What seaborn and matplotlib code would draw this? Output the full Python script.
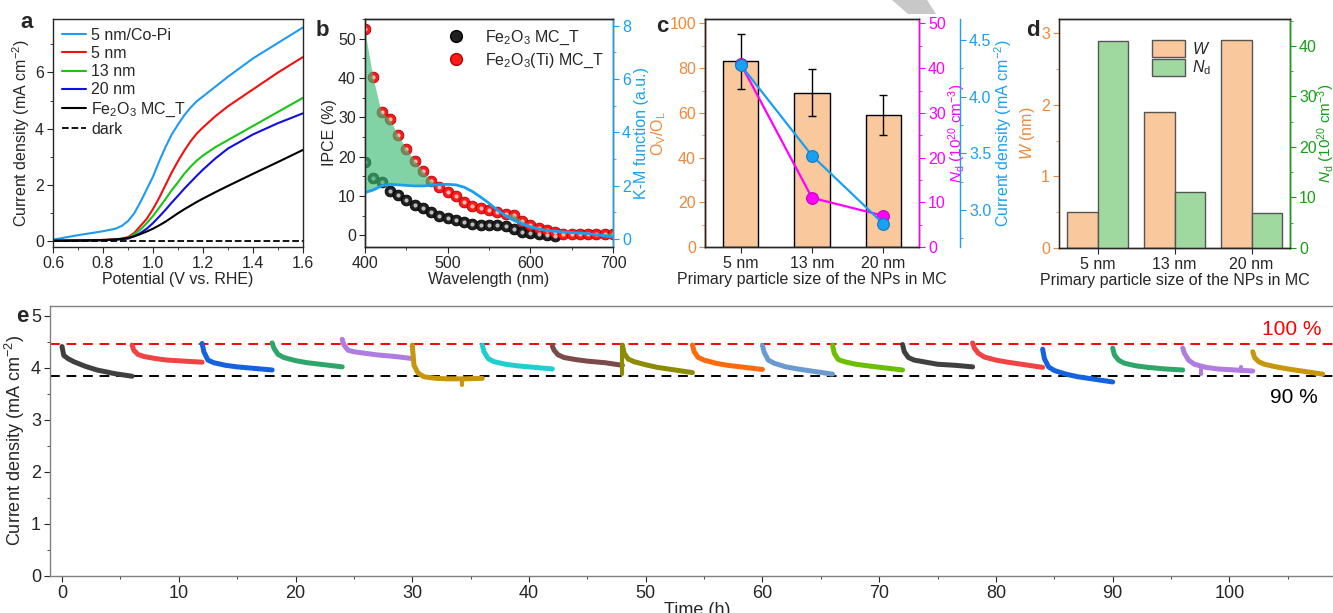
import numpy as np
import pandas as pd
import matplotlib
matplotlib.use("Agg")
import matplotlib.pyplot as plt
from matplotlib.patches import Patch, Polygon
from matplotlib.lines import Line2D
from matplotlib.ticker import MultipleLocator
import seaborn as sns

# ---------------- data ----------------
# a: LSV curves
potential = [0.6, 0.7, 0.8, 0.85, 0.875, 0.9, 0.925, 0.95, 0.975, 1.0, 1.025, 1.05,
             1.075, 1.1, 1.125, 1.15, 1.175, 1.2, 1.25, 1.3, 1.4, 1.5, 1.6]
j_copi = [0.06, 0.22, 0.36, 0.45, 0.55, 0.72, 1.0, 1.4, 1.85, 2.3, 2.85, 3.35,
          3.8, 4.15, 4.48, 4.75, 4.98, 5.15, 5.5, 5.85, 6.5, 7.05, 7.6]
j_5nm = [0.03, 0.04, 0.05, 0.07, 0.1, 0.15, 0.3, 0.55, 0.8, 1.15, 1.55, 2.0,
         2.45, 2.85, 3.22, 3.55, 3.83, 4.05, 4.45, 4.8, 5.4, 6.0, 6.55]
j_13nm = [0.02, 0.03, 0.04, 0.06, 0.08, 0.12, 0.25, 0.42, 0.65, 0.9, 1.2, 1.5,
          1.82, 2.1, 2.4, 2.65, 2.87, 3.05, 3.35, 3.6, 4.1, 4.6, 5.1]
j_20nm = [0.02, 0.03, 0.04, 0.06, 0.08, 0.1, 0.18, 0.3, 0.45, 0.65, 0.88, 1.12,
          1.38, 1.62, 1.87, 2.1, 2.33, 2.55, 2.95, 3.3, 3.8, 4.2, 4.55]
j_mct = [0.02, 0.03, 0.05, 0.07, 0.09, 0.12, 0.18, 0.26, 0.35, 0.45, 0.57, 0.7,
         0.85, 1.0, 1.14, 1.27, 1.4, 1.52, 1.75, 1.97, 2.4, 2.82, 3.25]
j_dark = [0.0] * len(potential)

# b: IPCE and K-M function
wl = np.arange(400, 701, 10)
ipce_ti = [52.5, 40.2, 31.3, 29.5, 25.5, 22.0, 19.0, 16.3, 13.8, 12.3, 11.0,
           9.9, 8.5, 7.4, 6.8, 6.3, 5.8, 5.3, 5.2, 3.5, 2.6, 1.9, 1.3, 0.9,
           0.3, 0.4, 0.3, 0.3, 0.3, 0.3, 0.4]
ipce_mct = [18.7, 14.5, 13.5, 11.3, 10.3, 9.0, 7.8, 6.8, 5.8, 5.0, 4.5, 3.8,
            3.3, 2.8, 2.7, 2.6, 2.5, 2.3, 1.5, 0.9, 0.6, 0.3, 0.1, -0.1]
km = [1.74, 1.84, 1.99, 2.05, 2.03, 2.01, 1.99, 1.99, 2.01, 2.04, 2.05, 2.03,
      1.94, 1.78, 1.57, 1.34, 1.09, 0.87, 0.70, 0.56, 0.45, 0.38, 0.32, 0.29,
      0.26, 0.24, 0.22, 0.20, 0.16, 0.12, 0.07]

# c, d: particle size comparison
sizes = ["5 nm", "13 nm", "20 nm"]
ov_ol = [83, 69, 59]
ov_ol_err = [12.5, 10.5, 9]
nd = [41, 11, 7]
cur_c = [4.28, 3.48, 2.88]
w_depl = [0.51, 1.90, 2.90]

# e: stability test (18 runs of 6 h)
seg_start = [0, 6, 12, 18, 24, 30, 36, 42, 48, 54, 60, 66, 72, 78, 84, 90, 96, 102]
rel_t = [0, 0.15, 0.5, 1, 2, 3, 4.5, 6]
seg_j = [
    [4.41, 4.24, 4.18, 4.12, 4.03, 3.96, 3.89, 3.84],
    [4.44, 4.34, 4.26, 4.22, 4.18, 4.15, 4.13, 4.11],
    [4.47, 4.31, 4.15, 4.10, 4.05, 4.02, 3.99, 3.96],
    [4.48, 4.38, 4.26, 4.20, 4.14, 4.10, 4.06, 4.02],
    [4.55, 4.44, 4.34, 4.31, 4.28, 4.25, 4.22, 4.18],
    [4.44, 4.05, 3.90, 3.83, 3.80, 3.79, 3.79, 3.80],
    [4.44, 4.31, 4.18, 4.12, 4.07, 4.04, 4.01, 3.98],
    [4.42, 4.34, 4.25, 4.20, 4.16, 4.13, 4.10, 4.05],
    [4.44, 4.28, 4.17, 4.12, 4.06, 4.01, 3.96, 3.91],
    [4.44, 4.31, 4.20, 4.15, 4.09, 4.05, 4.01, 3.97],
    [4.43, 4.30, 4.15, 4.09, 4.02, 3.98, 3.93, 3.88],
    [4.44, 4.28, 4.16, 4.12, 4.07, 4.04, 4.00, 3.96],
    [4.45, 4.31, 4.20, 4.15, 4.11, 4.07, 4.05, 4.02],
    [4.48, 4.38, 4.28, 4.21, 4.15, 4.11, 4.06, 4.01],
    [4.36, 4.18, 4.02, 3.95, 3.88, 3.83, 3.78, 3.73],
    [4.38, 4.25, 4.15, 4.09, 4.04, 4.01, 3.98, 3.96],
    [4.38, 4.28, 4.15, 4.07, 4.01, 3.98, 3.96, 3.94],
    [4.31, 4.20, 4.12, 4.07, 4.02, 3.98, 3.93, 3.88],
]
seg_colors = ["#404040", "#F04343", "#1562DE", "#2EA66A", "#B07CE0", "#C8960A",
              "#1ECFD0", "#7B4A4A", "#8C8C00", "#FF6A0D", "#6A9AD0", "#6BBE00",
              "#404040", "#F04343", "#1562DE", "#2EA66A", "#B07CE0", "#C8960A"]
# short glitches in some runs: time, low, high, run index
spike_t = [34.3, 48.0, 97.6, 101.0]
spike_lo = [3.68, 3.88, 3.88, 3.94]
spike_hi = [3.79, 4.44, 3.98, 4.02]
spike_seg = [5, 8, 16, 16]
ref_100 = 4.45
ref_90 = 3.84

# ---------------- style ----------------
sns.set_style("ticks")
plt.rcParams['font.family'] = ['Liberation Sans', 'DejaVu Sans']
plt.rcParams['mathtext.fontset'] = 'custom'
plt.rcParams['mathtext.rm'] = 'Liberation Sans'
plt.rcParams['mathtext.it'] = 'Liberation Sans:italic'
FS = 11.5
plt.rcParams['font.size'] = FS
plt.rcParams['axes.labelsize'] = FS
plt.rcParams['xtick.labelsize'] = FS
plt.rcParams['ytick.labelsize'] = FS
plt.rcParams['axes.linewidth'] = 1.0
plt.rcParams['xtick.major.size'] = 4
plt.rcParams['ytick.major.size'] = 4
plt.rcParams['xtick.minor.size'] = 2.5
plt.rcParams['ytick.minor.size'] = 2.5
plt.rcParams['xtick.major.pad'] = 2.5
plt.rcParams['ytick.major.pad'] = 2.5
plt.rcParams['xtick.direction'] = 'out'
plt.rcParams['ytick.direction'] = 'out'

ORANGE = "#F0883A"
BAR_OR = "#F9C89C"
BAR_GR = "#A0D9A0"
GREEN = "#17A017"
MAG = "#FF00FF"
SKY = "#1AA0F0"

W, H = 1333, 613
fig = plt.figure(figsize=(W / 100, H / 100), dpi=100)


def box(x0, y0, x1, y1):
    return [x0 / W, 1 - y1 / H, (x1 - x0) / W, (y1 - y0) / H]


def letter(x, y, s):
    fig.text(x / W, 1 - y / H, s, fontsize=16, fontweight='bold', ha='left', va='center')


# ---------------- a ----------------
ax_a = fig.add_axes(box(53, 19, 303, 247))
labels_a = ["5 nm/Co-Pi", "5 nm", "13 nm", "20 nm", "Fe$_2$O$_3$ MC_T"]
cols_a = ["#1E9BF0", "#F01010", "#18C418", "#1010E0", "black"]
series_a = [j_copi, j_5nm, j_13nm, j_20nm, j_mct]
df_a = pd.concat([pd.DataFrame({"V": potential, "J": s, "sample": lab})
                  for s, lab in zip(series_a, labels_a)])
sns.lineplot(data=df_a, x="V", y="J", hue="sample", palette=dict(zip(labels_a, cols_a)),
             estimator=None, sort=False, linewidth=1.5, legend=False, ax=ax_a)
sns.lineplot(x=potential, y=j_dark, color="black", linestyle="--", linewidth=1.3, ax=ax_a)
ax_a.set_xlim(0.6, 1.6)
ax_a.set_ylim(-0.2, 7.9)
ax_a.xaxis.set_major_locator(MultipleLocator(0.2))
ax_a.xaxis.set_minor_locator(MultipleLocator(0.1))
ax_a.yaxis.set_major_locator(MultipleLocator(2))
ax_a.yaxis.set_minor_locator(MultipleLocator(1))
ax_a.set_xlabel("Potential (V vs. RHE)", labelpad=1)
ax_a.set_ylabel("Current density (mA cm$^{-2}$)", labelpad=2)
h_a = [Line2D([], [], color=c, lw=1.5) for c in cols_a]
h_a.append(Line2D([], [], color="black", lw=1.3, ls="--"))
ax_a.legend(h_a, labels_a + ["dark"], loc="upper left", frameon=False,
            handlelength=1.5, handletextpad=0.35, labelspacing=0.2,
            borderaxespad=0.15, fontsize=FS)
letter(20, 22, "a")

# ---------------- b ----------------
ax_b = fig.add_axes(box(365, 19, 613, 247))
ax_b2 = ax_b.twinx()
sns.scatterplot(x=wl[:len(ipce_mct)], y=ipce_mct, s=60, color="#202020",
                edgecolor="#000000", linewidth=0.6, ax=ax_b, zorder=3)
sns.scatterplot(x=wl, y=ipce_ti, s=60, color="#FF1A1A", edgecolor="#B00000",
                linewidth=0.6, ax=ax_b, zorder=3)
sns.scatterplot(x=wl[:len(ipce_mct)], y=ipce_mct, s=9, color="white", alpha=0.7,
                linewidth=0, ax=ax_b, zorder=4)
sns.scatterplot(x=wl, y=ipce_ti, s=9, color="white", alpha=0.7,
                linewidth=0, ax=ax_b, zorder=4)
yl_b, yr_b = (-3, 55), (-0.3, 8.25)
ax_b.set_ylim(*yl_b)
ax_b2.set_ylim(*yr_b)
ipce_ti_r = yr_b[0] + (np.array(ipce_ti) - yl_b[0]) / (yl_b[1] - yl_b[0]) * (yr_b[1] - yr_b[0])
km_arr = np.array(km)
ax_b2.fill_between(wl, km_arr, ipce_ti_r, where=ipce_ti_r > km_arr, interpolate=True,
                   color="#3DBB75", alpha=0.65, linewidth=0)
sns.lineplot(x=wl, y=km, color=SKY, linewidth=2, ax=ax_b2)
ax_b.set_xlim(400, 700)
ax_b.xaxis.set_major_locator(MultipleLocator(100))
ax_b.xaxis.set_minor_locator(MultipleLocator(50))
ax_b.yaxis.set_major_locator(MultipleLocator(10))
ax_b.yaxis.set_minor_locator(MultipleLocator(5))
ax_b2.yaxis.set_major_locator(MultipleLocator(2))
ax_b2.yaxis.set_minor_locator(MultipleLocator(1))
ax_b.set_xlabel("Wavelength (nm)", labelpad=1)
ax_b.set_ylabel("IPCE (%)", labelpad=1)
ax_b2.set_ylabel("K-M function (a.u.)", color=SKY, labelpad=2)
ax_b2.spines["right"].set_color(SKY)
ax_b2.tick_params(axis="y", colors=SKY, which="both")
h_b = [Line2D([], [], ls="", marker="o", ms=8.5, mfc="#202020", mec="black"),
       Line2D([], [], ls="", marker="o", ms=8.5, mfc="#FF1A1A", mec="#B00000")]
ax_b.legend(h_b, ["Fe$_2$O$_3$ MC_T", "Fe$_2$O$_3$(Ti) MC_T"], loc="upper right",
            frameon=False, handletextpad=0.8, labelspacing=0.3, borderaxespad=0.2,
            fontsize=FS)
letter(316, 30, "b")

# ---------------- c ----------------
ax_c = fig.add_axes(box(705, 19, 919, 247))
pos = np.arange(len(sizes))
sns.barplot(x=sizes, y=ov_ol, color=BAR_OR, edgecolor="black", linewidth=1,
            width=0.5, saturation=1, ax=ax_c)
ax_c.errorbar(pos, ov_ol, yerr=ov_ol_err, fmt="none", ecolor="black",
              elinewidth=1, capsize=3, capthick=1)
ax_c2 = ax_c.twinx()
sns.lineplot(x=pos, y=nd, color=MAG, marker="o", markersize=8.5, markeredgecolor="#C000C0",
             linewidth=1.6, sort=False, ax=ax_c2)
ax_c3 = ax_c.twinx()
sns.lineplot(x=pos, y=cur_c, color=SKY, marker="o", markersize=8.5, markeredgecolor="#0A78C0",
             linewidth=1.6, sort=False, ax=ax_c3)
ax_c.set_xlim(-0.5, 2.5)
ax_c.set_ylim(0, 102)
ax_c2.set_ylim(0, 51)
ax_c3.set_ylim(2.675, 4.684)
ax_c.yaxis.set_major_locator(MultipleLocator(20))
ax_c.yaxis.set_minor_locator(MultipleLocator(10))
ax_c2.yaxis.set_major_locator(MultipleLocator(10))
ax_c2.yaxis.set_minor_locator(MultipleLocator(5))
ax_c3.yaxis.set_major_locator(MultipleLocator(0.5))
ax_c3.yaxis.set_minor_locator(MultipleLocator(0.25))
ax_c3.spines["right"].set_position(("outward", 29.5))
for sp in ["top", "bottom"]:
    ax_c3.spines[sp].set_visible(False)
ax_c.spines["left"].set_color(ORANGE)
ax_c.tick_params(axis="y", colors=ORANGE, which="both")
ax_c.set_ylabel("O$_\\mathrm{V}$/O$_\\mathrm{L}$", color=ORANGE, labelpad=1)
ax_c2.spines["right"].set_color(MAG)
ax_c2.tick_params(axis="y", colors=MAG, which="both")
ax_c2.set_ylabel("$N_\\mathrm{d}$ (10$^{20}$ cm$^{-3}$)", color=MAG, labelpad=0, fontsize=11)
ax_c3.spines["right"].set_color(SKY)
ax_c3.tick_params(axis="y", colors=SKY, which="both")
ax_c3.set_ylabel("Current density (mA cm$^{-2}$)", color=SKY, labelpad=1)
ax_c3.set_yticks([3.0, 3.5, 4.0, 4.5], ["3.0", "3.5", "4.0", "4.5"])
ax_c.set_xlabel("Primary particle size of the NPs in MC", labelpad=1)
letter(656, 27, "c")

# ---------------- d ----------------
ax_d = fig.add_axes(box(1059, 19, 1290, 248))
ax_d2 = ax_d.twinx()
sns.barplot(x=pos - 0.2, y=w_depl, native_scale=True, width=0.4, color=BAR_OR,
            saturation=1, edgecolor="#555555", linewidth=1, ax=ax_d)
sns.barplot(x=pos + 0.2, y=nd, native_scale=True, width=0.4, color=BAR_GR,
            saturation=1, edgecolor="#555555", linewidth=1, ax=ax_d2)
ax_d.set_xlim(-0.5, 2.5)
ax_d.set_xticks(pos, sizes)
ax_d.set_ylim(0, 3.2)
ax_d2.set_ylim(0, 45.3)
ax_d.yaxis.set_major_locator(MultipleLocator(1))
ax_d.yaxis.set_minor_locator(MultipleLocator(0.5))
ax_d2.yaxis.set_major_locator(MultipleLocator(10))
ax_d2.yaxis.set_minor_locator(MultipleLocator(5))
ax_d.spines["left"].set_color(ORANGE)
ax_d.tick_params(axis="y", colors=ORANGE, which="both")
ax_d.set_ylabel("$W$ (nm)", color=ORANGE, labelpad=3)
ax_d2.spines["right"].set_color(GREEN)
ax_d2.tick_params(axis="y", colors=GREEN, which="both")
ax_d2.set_ylabel("$N_\\mathrm{d}$ (10$^{20}$ cm$^{-3}$)", color=GREEN, labelpad=-1, fontsize=11)
ax_d.set_xlabel("Primary particle size of the NPs in MC", labelpad=1)
h_d = [Patch(fc=BAR_OR, ec="#555555"), Patch(fc=BAR_GR, ec="#555555")]
ax_d2.legend(h_d, ["$W$", "$N_\\mathrm{d}$"], loc="upper left", bbox_to_anchor=(0.34, 0.97),
             frameon=False, handlelength=2.1, handleheight=1.25, handletextpad=0.4,
             labelspacing=0.1, fontsize=FS)
letter(1026, 30, "d")

# ---------------- e ----------------
FE = 13
ax_e = fig.add_axes(box(50, 306, 1345, 576))
df_e = pd.concat([pd.DataFrame({"t": np.array(rel_t) + t0, "j": js, "run": i})
                  for i, (t0, js) in enumerate(zip(seg_start, seg_j))])
sns.lineplot(data=df_e, x="t", y="j", hue="run", palette=seg_colors, estimator=None,
             sort=False, linewidth=3.6, legend=False, ax=ax_e, solid_capstyle="round")
for t, lo, hi, k in zip(spike_t, spike_lo, spike_hi, spike_seg):
    ax_e.plot([t, t], [lo, hi], color=seg_colors[k], lw=3, solid_capstyle="round")
ax_e.axhline(ref_100, color="#FF0000", ls=(0, (5, 3.5)), lw=1.4, zorder=1)
ax_e.axhline(ref_90, color="black", ls=(0, (5, 3.5)), lw=1.4, zorder=1)
ax_e.text(105.3, 4.73, "100 %", color="#FF0000", fontsize=15, ha="center", va="center")
ax_e.text(105.5, 3.44, "90 %", color="black", fontsize=15, ha="center", va="center")
ax_e.set_xlim(-1.03, 109.9)
ax_e.set_ylim(0, 5.19)
ax_e.xaxis.set_major_locator(MultipleLocator(10))
ax_e.xaxis.set_minor_locator(MultipleLocator(5))
ax_e.yaxis.set_major_locator(MultipleLocator(1))
ax_e.yaxis.set_minor_locator(MultipleLocator(0.5))
ax_e.tick_params(labelsize=FE)
for sp in ax_e.spines.values():
    sp.set_color("#808080")
ax_e.set_xlabel("Time (h)", labelpad=0, fontsize=FE)
ax_e.set_ylabel("Current density (mA cm$^{-2}$)", labelpad=3, fontsize=FE)
letter(16, 316, "e")

# faint grey wedge at the top of panel c
fig.patches.append(Polygon([[892 / W, 1], [927 / W, 1], [936 / W, 1 - 14 / H], [908 / W, 1 - 14 / H]],
                           closed=True, transform=fig.transFigure, fc="#C8C8C8", ec="none"))

fig.savefig("out.png", dpi=100)
